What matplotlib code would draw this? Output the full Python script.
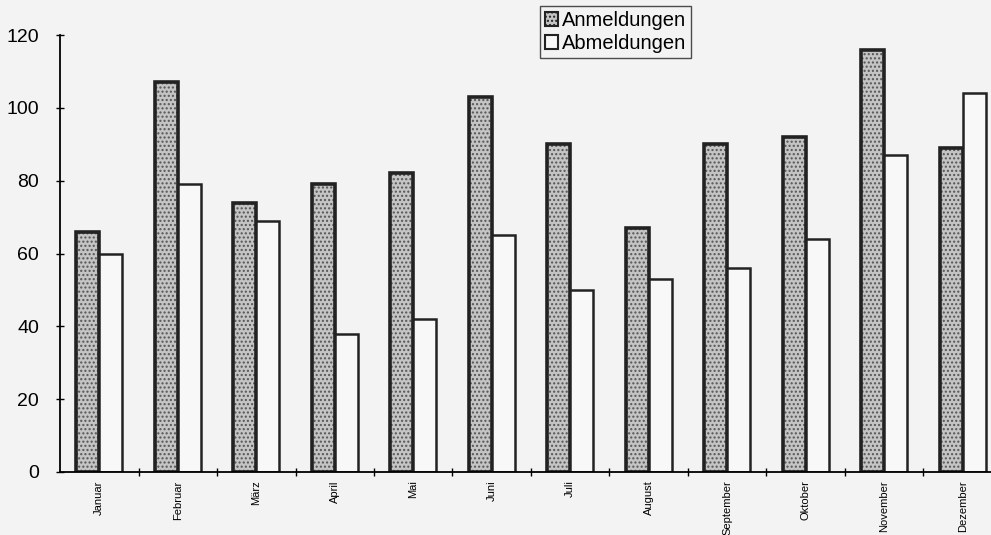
import matplotlib.pyplot as plt
import numpy as np
from matplotlib.patches import Patch

plt.rcParams['font.family'] = ['Liberation Sans', 'DejaVu Sans']

monate = ['Januar', 'Februar', 'März', 'April', 'Mai', 'Juni', 'Juli',
          'August', 'September', 'Oktober', 'November', 'Dezember']
anmeldungen = [66, 107, 74, 79, 82, 103, 90, 67, 90, 92, 116, 89]
abmeldungen = [60, 79, 69, 38, 42, 65, 50, 53, 56, 64, 87, 104]

bg = '#f3f3f3'
fig = plt.figure(figsize=(9.91, 5.35), dpi=100, facecolor=bg)
ax = fig.add_axes([60 / 991, 1 - 472 / 535, 1 - 60 / 991, (472 - 35) / 535])
ax.set_facecolor(bg)

x = np.arange(len(monate))
w = 0.29
# gepunktete Fuellung, danach Rahmen
ax.bar(x - w / 2, anmeldungen, w, color='#c4c4c4', hatch='....',
       edgecolor='#555555', linewidth=0)
ax.bar(x - w / 2, anmeldungen, w, fill=False, edgecolor='#222222', linewidth=2.6)
ax.bar(x + w / 2, abmeldungen, w, color='#f8f8f8', edgecolor='#222222',
       linewidth=1.8)

ax.set_xlim(-0.5, -0.5 + 931 / 78.5)
ax.set_ylim(0, 120)
ax.set_yticks(range(0, 121, 20))
ax.tick_params(axis='y', labelsize=14, direction='inout', length=6, width=1,
               pad=12)
ax.set_xticks(x)
ax.set_xticklabels(monate, rotation=90, fontsize=8)
ax.tick_params(axis='x', length=0, pad=6)
ax.set_xticks(x[:-1] + 0.5, minor=True)
ax.tick_params(axis='x', which='minor', direction='inout', length=6, width=1)
for s in ['top', 'right']:
    ax.spines[s].set_visible(False)
ax.spines['left'].set_linewidth(1.3)
ax.spines['bottom'].set_linewidth(1.3)

handles = [Patch(facecolor='#c4c4c4', edgecolor='#222222', hatch='....', linewidth=1.5),
           Patch(facecolor='#f8f8f8', edgecolor='#222222', linewidth=1.5)]
leg = fig.legend(handles, ['Anmeldungen', 'Abmeldungen'], loc='upper left',
                 bbox_to_anchor=(540 / 991, 1 - 6 / 535), fontsize=14.5,
                 frameon=True, fancybox=False, handlelength=0.65,
                 handleheight=0.65, handletextpad=0.2, borderpad=0.25,
                 labelspacing=0.2, borderaxespad=0)
leg.get_frame().set_edgecolor('#222222')
leg.get_frame().set_facecolor(bg)
leg.get_frame().set_linewidth(1)

plt.savefig('out.png', dpi=100, facecolor=bg)
